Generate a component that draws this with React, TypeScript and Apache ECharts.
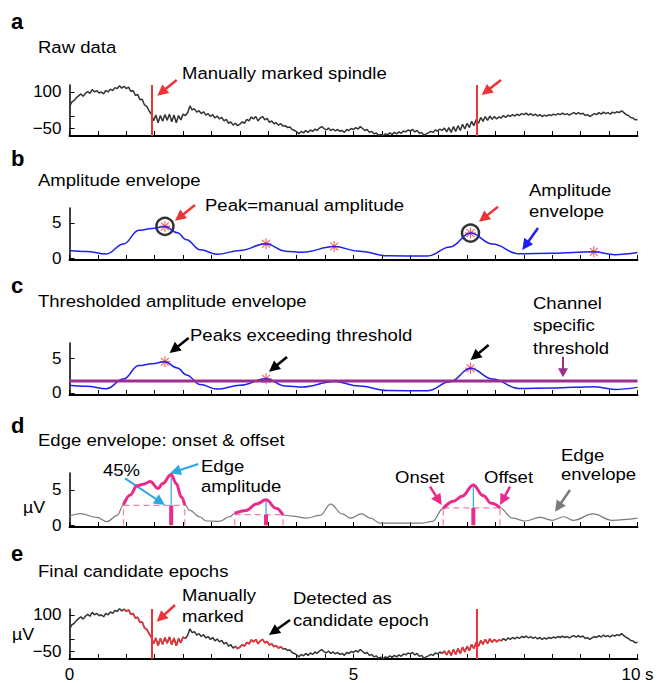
import React, { useEffect, useRef } from 'react';
import * as echarts from 'echarts';

const FONT = '"Liberation Sans", Arial, Helvetica, sans-serif';
const RED = '#ee3338';
const BLUE = '#1f1fef';
const PURPLE = '#9b2f8f';
const MAGENTA = '#ec2a8b';
const PINK = '#f27db4';
const CYAN = '#2aa8e2';
const GREY = '#7a7a7a';
const TRACE = '#333333';

// raw EEG trace, sampled every 0.04 s from 0 to 10 s (µV)
const rawStep = 0.04;
const rawValues = [
  39, 58, 64, 76, 84, 92, 82, 94, 102, 94, 110, 100, 106, 96, 100, 92, 106, 100, 112, 106, 118, 114, 126, 116, 124,
  114, 120, 102, 106, 86, 90, 68, 70, 46, 40, 22, 8, -20, 4, -28, 2, -22, 6, -18, 8, -24, 4, -28, 2, -16,
  8, 2, 14, 42, 26, 30, 16, 22, 10, 18, 4, 10, -2, 6, -8, 0, -12, -6, -20, -14, -30, -24, -38, -30, -40,
  -34, -24, -30, -14, -20, -4, -12, -2, -20, -8, -2, -16, -10, -26, -20, -32, -28, -38, -32, -42, -40, -48, -46, -56, -60,
  -66, -74, -64, -70, -60, -68, -58, -64, -54, -60, -50, -44, -52, -58, -50, -60, -54, -62, -56, -64, -60, -68, -56, -60, -52,
  -56, -48, -54, -44, -52, -60, -56, -68, -64, -74, -70, -80, -76, -82, -74, -78, -70, -76, -68, -74, -66, -72, -62, -66, -58,
  -62, -56, -66, -60, -72, -68, -80, -74, -70, -64, -68, -58, -62, -54, -60, -50, -66, -48, -68, -44, -64, -40, -60, -34, -54,
  -30, -48, -22, -40, -14, -30, -6, -22, -2, -18, 0, -14, -2, -12, -4, -8, 2, -6, 4, -2, 6, 0, 8, 2, 10,
  6, 12, 4, 10, 2, 8, 0, 6, -2, 4, 0, 6, 2, 8, 4, 10, 6, 12, 6, 10, 4, 10, 14, 8, 14,
  8, 12, 2, 6, -2, 4, 10, 6, 14, 8, 16, 10, 14, 8, 16, 12, 18, 14, 22, 14, 6, 2, -6, -8, -16,
  -14,
];

// manually marked spindle (s)
const spindleMarks = [1.45, 7.17];

// amplitude envelope (key points)
const ampEnvT = [0, 0.3, 0.65, 0.95, 1.22, 1.45, 1.68, 1.9, 2.06, 2.3, 2.6, 3.0, 3.46, 3.8, 4.1, 4.66, 5.1, 5.6, 6.3, 6.7, 7.06, 7.45, 7.9, 8.5, 9.23, 9.6, 10];
const ampEnvV = [1.1, 0.95, 0.6, 2.0, 3.95, 4.2, 4.5, 3.6, 2.6, 1.2, 0.55, 1.1, 2.05, 1.0, 0.85, 1.65, 1.0, 0.35, 0.3, 1.6, 3.55, 2.0, 0.65, 0.7, 0.9, 0.5, 0.8];

// detected envelope peaks
const peaksT = [1.68, 3.46, 4.66, 7.06, 9.23];
const peaksV = [4.5, 2.05, 1.65, 3.55, 0.9];
const manualPeakT = [1.68, 7.06];
const manualPeakV = [4.5, 3.55];
const abovePeakT = [1.68, 3.46, 7.06];
const abovePeakV = [4.5, 2.05, 3.55];
const threshold = 1.72;

// edge envelope (key points)
const edgeEnvT = [0, 0.19, 0.48, 0.66, 0.84, 0.95, 1.07, 1.19, 1.3, 1.42, 1.56, 1.64, 1.79, 1.88, 1.97, 2.03, 2.12, 2.29, 2.41, 2.64, 2.82, 2.91, 3.11, 3.29, 3.46, 3.64, 3.76, 3.93, 4.17, 4.41, 4.6, 4.8, 4.95, 5.14, 5.3, 5.47, 6.2, 6.39, 6.58, 6.76, 6.91, 7.11, 7.28, 7.43, 7.58, 7.8, 8.02, 8.28, 8.5, 8.7, 8.87, 9.22, 9.55, 10];
const edgeEnvV = [1.3, 1.65, 1.1, 0.5, 1.4, 2.9, 4.3, 5.6, 5.8, 6.2, 5.2, 5.9, 7.2, 5.9, 4.0, 2.85, 2.1, 1.2, 0.6, 0.55, 1.2, 1.7, 2.1, 3.0, 3.6, 2.4, 1.45, 1.3, 1.0, 1.4, 3.0, 1.6, 1.0, 1.6, 1.0, 0.3, 0.3, 0.55, 2.4, 3.4, 4.1, 5.7, 4.2, 3.1, 2.45, 1.0, 0.6, 1.1, 0.7, 1.2, 0.7, 1.6, 0.7, 1.0];

// detected events: onset, offset, peak time, edge amplitude, 45% level
const evOnset = [0.95, 2.91, 6.58];
const evOffset = [2.03, 3.76, 7.58];
const evPeakT = [1.79, 3.46, 7.11];
const evPeakV = [7.2, 3.6, 5.7];
const evLevel = [2.8, 1.5, 2.45];

// final candidate epochs (s)
const candStart = [0.96, 2.92, 6.56];
const candEnd = [2.04, 3.76, 7.6];

const ASTERISK =
  'path://M9 0H11V20H9ZM0 9H20V11H0ZM3.6 2.2L17.8 16.4L16.4 17.8L2.2 3.6ZM2.2 16.4L16.4 2.2L17.8 3.6L3.6 17.8Z';

function arrow(x1: number, y1: number, x2: number, y2: number, color: string, w = 2.5, L = 11, H = 5.5) {
  const dx = x2 - x1;
  const dy = y2 - y1;
  const len = Math.hypot(dx, dy);
  const ux = dx / len;
  const uy = dy / len;
  const bx = x2 - ux * L;
  const by = y2 - uy * L;
  const nx = -uy;
  const ny = ux;
  return [
    { type: 'line', silent: true, shape: { x1, y1, x2: bx + ux * 2, y2: by + uy * 2 }, style: { stroke: color, lineWidth: w } },
    {
      type: 'polygon',
      silent: true,
      shape: { points: [[x2, y2], [bx + nx * H, by + ny * H], [bx - nx * H, by - ny * H]] },
      style: { fill: color },
    },
  ];
}

const TEXT_SIZE = 17;
const TEXT_SCALE = 1.09;

function txt(text: string, x: number, yFirst: number, size = TEXT_SIZE, lh = 21, weight: any = 'normal', sx = TEXT_SCALE) {
  return {
    type: 'text',
    silent: true,
    x,
    y: yFirst - lh / 2,
    scaleX: sx,
    style: {
      text,
      fontSize: size,
      fontFamily: FONT,
      fontWeight: weight,
      fill: '#000',
      lineHeight: lh,
      verticalAlign: 'top',
      textVerticalAlign: 'top',
    },
  };
}

const GRID_LEFT = 69.5;
const GRID_W = 568;
const grids = [
  { top: 85, height: 51 },
  { top: 208, height: 52 },
  { top: 343, height: 52 },
  { top: 473, height: 54 },
  { top: 609, height: 52 },
];
const yRanges = [
  [-83, 129],
  [-0.25, 7.1],
  [-0.3, 7.2],
  [-0.25, 7.4],
  [-83, 124],
];

export default function App() {
  const ref = useRef<HTMLDivElement>(null);
  useEffect(() => {
    if (!ref.current) return;
    const chart = echarts.init(ref.current, null, { renderer: 'svg' });

    const raw = rawValues.map((v, i) => [+(i * rawStep).toFixed(2), v]);
    const inCand = (t: number) => candStart.some((s, k) => t >= s - 1e-9 && t <= candEnd[k] + 1e-9);
    const rawRed = raw.map(([t, v]) => [t, inCand(t) ? v : null]);
    const amp = ampEnvT.map((t, i) => [t, ampEnvV[i]]);
    const edge = edgeEnvT.map((t, i) => [t, edgeEnvV[i]]);
    const inEv = (t: number) => evOnset.some((s, k) => t >= s - 1e-9 && t <= evOffset[k] + 1e-9);
    const edgeMag = edge.map(([t, v]) => [t, inEv(t) ? v : null]);

    const xAxes = grids.map((_, i) => ({
      type: 'value',
      gridIndex: i,
      min: 0,
      max: 10,
      interval: 0.5,
      axisLine: { show: true, onZero: false, lineStyle: { color: '#000', width: 2 } },
      axisTick: { show: true, inside: true, length: 5, lineStyle: { color: '#000', width: 1 } },
      splitLine: { show: false },
      axisLabel: {
        show: i === 4,
        margin: 7,
        fontSize: 17,
        fontFamily: FONT,
        color: '#000',
        formatter: (v: number) =>
          Math.abs(v) < 1e-6 ? '0' : Math.abs(v - 5) < 1e-6 ? '5' : Math.abs(v - 10) < 1e-6 ? '10 s' : '',
      },
    }));

    const yAxes = grids.map((_, i) => {
      const big = i === 0 || i === 4;
      return {
        type: 'value',
        gridIndex: i,
        min: yRanges[i][0],
        max: yRanges[i][1],
        axisLine: { show: true, onZero: false, lineStyle: { color: '#000', width: 1.5 } },
        axisTick: {
          show: true,
          inside: true,
          length: 5,
          lineStyle: { color: '#000', width: 1 },
          customValues: big ? [100, 0, -50] : [0, 5],
        },
        splitLine: { show: false },
        axisLabel: {
          show: true,
          margin: 8,
          fontSize: 17,
          fontFamily: FONT,
          color: '#000',
          customValues: big ? [100, -50] : [0, 5],
          formatter: (v: number) => (v < 0 ? '\u2212' + Math.abs(v) : String(v)),
        },
      };
    });

    const series: any[] = [
      // a
      {
        type: 'line',
        xAxisIndex: 0,
        yAxisIndex: 0,
        data: raw,
        showSymbol: false,
        lineStyle: { color: TRACE, width: 1.5 },
        markLine: {
          silent: true,
          symbol: 'none',
          label: { show: false },
          lineStyle: { color: RED, width: 2, type: 'solid' },
          data: spindleMarks.map((t) => ({ xAxis: t })),
        },
      },
      // b
      {
        type: 'line',
        xAxisIndex: 1,
        yAxisIndex: 1,
        data: amp,
        smooth: 0.4,
        smoothMonotone: 'x',
        showSymbol: false,
        lineStyle: { color: BLUE, width: 1.5 },
      },
      {
        type: 'scatter',
        xAxisIndex: 1,
        yAxisIndex: 1,
        data: peaksT.map((t, i) => [t, peaksV[i]]),
        symbol: ASTERISK,
        symbolSize: 11,
        itemStyle: { color: RED },
      },
      {
        type: 'scatter',
        xAxisIndex: 1,
        yAxisIndex: 1,
        data: manualPeakT.map((t, i) => [t, manualPeakV[i]]),
        symbol: 'circle',
        symbolSize: 17,
        itemStyle: { color: 'rgba(0,0,0,0)', borderColor: '#000', borderWidth: 2.5 },
      },
      // c
      {
        type: 'line',
        xAxisIndex: 2,
        yAxisIndex: 2,
        data: amp,
        smooth: 0.4,
        smoothMonotone: 'x',
        showSymbol: false,
        lineStyle: { color: BLUE, width: 1.5 },
      },
      {
        type: 'line',
        xAxisIndex: 2,
        yAxisIndex: 2,
        data: [
          [0, threshold],
          [10, threshold],
        ],
        showSymbol: false,
        lineStyle: { color: PURPLE, width: 3 },
      },
      {
        type: 'scatter',
        xAxisIndex: 2,
        yAxisIndex: 2,
        data: abovePeakT.map((t, i) => [t, abovePeakV[i]]),
        symbol: ASTERISK,
        symbolSize: 11,
        itemStyle: { color: RED },
      },
      // d
      {
        type: 'line',
        xAxisIndex: 3,
        yAxisIndex: 3,
        data: edge,
        smooth: 0.4,
        smoothMonotone: 'x',
        showSymbol: false,
        lineStyle: { color: GREY, width: 1.2 },
      },
    ];

    evOnset.forEach((on, k) => {
      const off = evOffset[k];
      const lvl = evLevel[k];
      const pt = evPeakT[k];
      const seg = (a: number[], b: number[], color: string, width: number, type: any = 'solid') => ({
        type: 'line',
        xAxisIndex: 3,
        yAxisIndex: 3,
        data: [a, b],
        showSymbol: false,
        lineStyle: { color, width, type },
      });
      series.push(
        seg([on, lvl], [off, lvl], PINK, 1.2, [6, 4]),
        seg([on, 0], [on, lvl], PINK, 1.2, [6, 4]),
        seg([off, 0], [off, lvl], PINK, 1.2, [6, 4]),
        seg([pt, lvl], [pt, evPeakV[k]], CYAN, 1.2),
        seg([pt, 0], [pt, lvl], MAGENTA, 4)
      );
    });

    series.push(
      {
        type: 'line',
        xAxisIndex: 3,
        yAxisIndex: 3,
        data: edgeMag,
        smooth: 0.4,
        smoothMonotone: 'x',
        showSymbol: false,
        lineStyle: { color: MAGENTA, width: 3 },
      },
      // e
      {
        type: 'line',
        xAxisIndex: 4,
        yAxisIndex: 4,
        data: raw,
        showSymbol: false,
        lineStyle: { color: TRACE, width: 1.5 },
        markLine: {
          silent: true,
          symbol: 'none',
          label: { show: false },
          lineStyle: { color: RED, width: 2, type: 'solid' },
          data: spindleMarks.map((t) => ({ xAxis: t })),
        },
      },
      {
        type: 'line',
        xAxisIndex: 4,
        yAxisIndex: 4,
        data: rawRed,
        showSymbol: false,
        lineStyle: { color: RED, width: 1.5 },
      }
    );

    const graphic: any[] = [
      txt('a', 11, 21, 22, 24, 'bold', 1),
      txt('Raw data', 38, 47),
      txt('Manually marked spindle', 182, 73),
      ...arrow(176.7, 80, 157.3, 95.7, RED),
      ...arrow(501, 80, 481.7, 95, RED),

      txt('b', 11, 158, 22, 24, 'bold', 1),
      txt('Amplitude envelope', 38, 180),
      txt('Peak=manual amplitude', 205, 205),
      txt('Amplitude\nenvelope', 529, 190, TEXT_SIZE, 21),
      ...arrow(195, 205, 175, 220.7, RED),
      ...arrow(498, 206.7, 479, 221.7, RED),
      ...arrow(538, 228, 522.3, 250, BLUE),

      txt('c', 11, 285, 22, 24, 'bold', 1),
      txt('Thresholded amplitude envelope', 38, 301),
      txt('Peaks exceeding threshold', 190, 335),
      txt('Channel\nspecific\nthreshold', 533, 303, TEXT_SIZE, 22.5),
      ...arrow(188.6, 338, 169.6, 353, '#000'),
      ...arrow(287, 357, 269, 371.7, '#000'),
      ...arrow(488.6, 345, 470.6, 360, '#000'),
      ...arrow(563, 356.7, 563, 377.3, PURPLE, 2, 9, 5),

      txt('d', 11, 425, 22, 24, 'bold', 1),
      txt('Edge envelope: onset & offset', 38, 440),
      txt('45%', 103, 470),
      txt('Edge\namplitude', 201, 466, TEXT_SIZE, 20),
      txt('Onset', 395, 477),
      txt('Offset', 484, 477),
      txt('Edge\nenvelope', 561, 455, TEXT_SIZE, 19),
      txt('\u00b5V', 23, 507, 17, 21, 'normal', 1.05),
      ...arrow(125, 478.3, 165, 505, CYAN, 2),
      ...arrow(198.3, 464, 170, 473.3, CYAN, 2),
      ...arrow(430, 486.7, 441.7, 505, MAGENTA),
      ...arrow(510, 486.7, 500, 505, MAGENTA),
      ...arrow(570, 490, 555, 511.7, GREY),

      txt('e', 11, 553, 22, 24, 'bold', 1),
      txt('Final candidate epochs', 38, 571),
      txt('Manually\nmarked', 182, 595, TEXT_SIZE, 21.5),
      txt('Detected as\ncandidate epoch', 293, 598, TEXT_SIZE, 22.5),
      txt('\u00b5V', 12, 634, 17, 21, 'normal', 1.05),
      ...arrow(175, 605, 156.7, 621.7, RED),
      ...arrow(290, 620, 269, 635, '#000'),
    ];

    chart.setOption({
      animation: false,
      backgroundColor: '#fff',
      grid: grids.map((g) => ({ left: GRID_LEFT, width: GRID_W, top: g.top, height: g.height, containLabel: false })),
      xAxis: xAxes,
      yAxis: yAxes,
      series,
      graphic,
    });
    return () => chart.dispose();
  }, []);
  return <div ref={ref} style={{ position: 'fixed', left: 0, top: 0, width: 659, height: 683, background: '#fff' }} />;
}
